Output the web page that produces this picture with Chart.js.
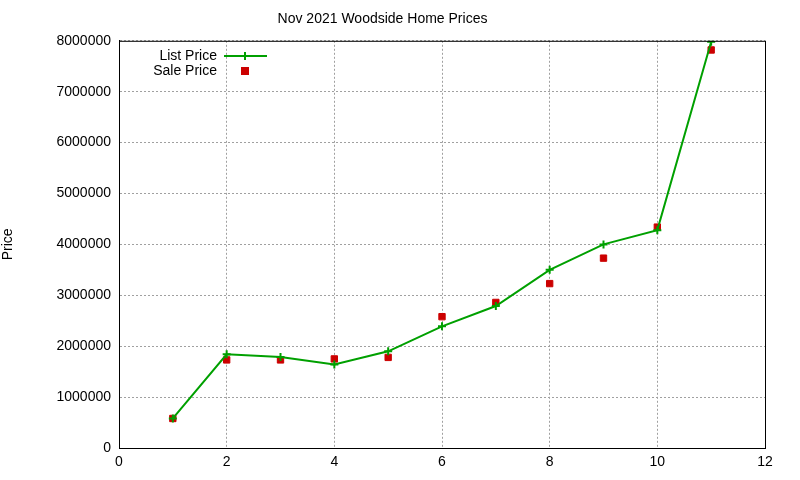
<!DOCTYPE html>
<html><head><meta charset="utf-8">
<script src="https://cdn.jsdelivr.net/npm/chart.js@4"></script>
<style>html,body{margin:0;padding:0;background:#fff}</style>
</head><body><canvas id="c" width="800" height="480"></canvas>
<script>
const houses = [1,2,3,4,5,6,7,8,9,10,11];
const listPrice = [580000,1840000,1790000,1640000,1900000,2390000,2790000,3500000,4000000,4280000,7980000];
const salePrice = [580000,1730000,1730000,1750000,1780000,2580000,2860000,3230000,3730000,4340000,7820000];
const xTicks = [0,2,4,6,8,10,12];
const yTicks = [0,1000000,2000000,3000000,4000000,5000000,6000000,7000000,8000000];

const legendPlugin = {
  id:'gl',
  afterDraw(ch){
    const c=ch.ctx; c.save();
    c.font='14px "Liberation Sans", Arial'; c.fillStyle='#000'; c.textAlign='right'; c.textBaseline='middle';
    c.fillText('List Price',217,56); c.fillText('Sale Price',217,71);
    c.strokeStyle='#00a000'; c.lineWidth=2; c.beginPath(); c.moveTo(224,56); c.lineTo(267,56); c.stroke();
    c.beginPath(); c.moveTo(245,52); c.lineTo(245,60); c.moveTo(241,56); c.lineTo(249,56); c.stroke();
    c.fillStyle='#cc0000'; c.fillRect(241,67,8,8);
    c.restore();
  }
};
new Chart(document.getElementById('c'),{
  type:'scatter',
  data:{datasets:[
    {label:'List Price',data:houses.map((x,i)=>({x,y:listPrice[i]})),showLine:true,borderColor:'#00a000',backgroundColor:'#00a000',borderWidth:2,pointStyle:'cross',pointRadius:4,pointBorderWidth:2,order:1},
    {label:'Sale Price',data:houses.map((x,i)=>({x,y:salePrice[i]})),borderColor:'#cc0000',backgroundColor:'#cc0000',pointStyle:'rect',pointRadius:4.5,order:2}
  ]},
  options:{responsive:false,animation:false,devicePixelRatio:1,
    layout:{padding:{left:0,right:35,top:0,bottom:0}},
    plugins:{legend:{display:false},tooltip:{enabled:false},
      title:{display:true,text:'Nov 2021 Woodside Home Prices',color:'#000',font:{family:'"Liberation Sans", Arial',size:14,weight:'normal'},padding:{top:11,bottom:13}}},
    scales:{
      x:{type:'linear',min:0,max:12,afterBuildTicks(s){s.ticks=xTicks.map(v=>({value:v}));},
        afterFit(s){s.height=32;},
        grid:{color:'#a0a0a0',drawTicks:false},border:{color:'#000',width:1,dash:[2,2]},
        ticks:{color:'#000',font:{family:'"Liberation Sans", Arial',size:14},padding:6}},
      y:{min:0,max:8000000,afterBuildTicks(s){s.ticks=yTicks.map(v=>({value:v}));},
        afterFit(s){s.width=119;},
        title:{display:true,text:'Price',color:'#000',font:{family:'"Liberation Sans", Arial',size:14},padding:{top:0,bottom:40}},
        grid:{color:'#a0a0a0',drawTicks:false},border:{color:'#000',width:1,dash:[2,2]},
        ticks:{color:'#000',font:{family:'"Liberation Sans", Arial',size:14},padding:8,callback:v=>String(v)}}
    }},
  plugins:[legendPlugin,{id:'frame',afterDraw(ch){const a=ch.chartArea,c=ch.ctx;c.save();c.strokeStyle='#000';c.lineWidth=1;c.strokeRect(a.left+0.5,a.top+0.5,a.right-a.left,a.bottom-a.top);c.restore();}}]
});
</script></body></html>
